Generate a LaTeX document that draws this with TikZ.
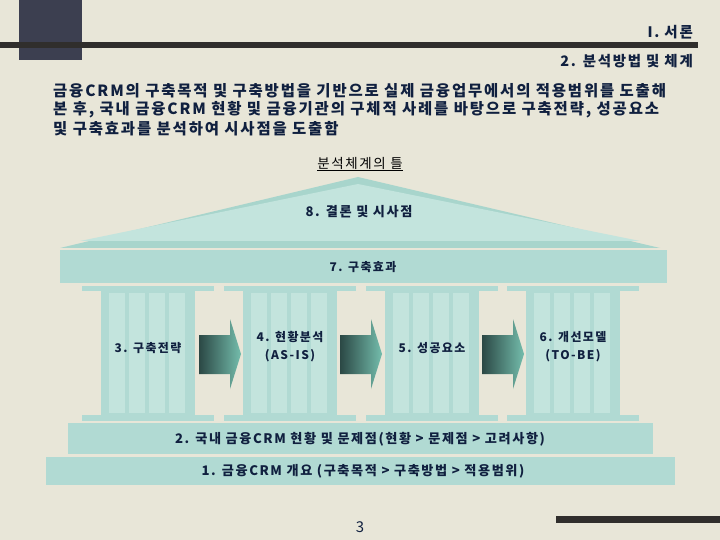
\documentclass[tikz,border=0pt]{standalone}
\usepackage{fontspec}
\setmainfont{Noto Sans CJK KR}
\newfontfamily\krwide[LetterSpace=12]{Noto Sans CJK KR}
\usepackage{tikz}
\usetikzlibrary{positioning}
\definecolor{paper}{HTML}{E8E6D8}
\definecolor{slate}{HTML}{3C3F50}
\definecolor{bar}{HTML}{302E2C}
\definecolor{rim}{HTML}{A8D5CC}
\definecolor{pale}{HTML}{C3E4DD}
\definecolor{mint}{HTML}{B1DAD3}
\definecolor{ink}{HTML}{10203F}
\definecolor{arrdark}{HTML}{2B4845}
\definecolor{arrlight}{HTML}{74BDAC}

\tikzset{
  hdtext/.style={font=\krwide\bfseries\fontsize{14.5}{16}\selectfont, text=ink, inner sep=0pt},
  bodytext/.style={font=\krwide\bfseries\fontsize{15.5}{19}\selectfont, text=ink, inner sep=0pt, anchor=west},
  lbl/.style={font=\krwide\bfseries\fontsize{12}{18}\selectfont, text=ink, inner sep=0pt, align=center},
  biglbl/.style={lbl, font=\krwide\bfseries\fontsize{13.2}{16}\selectfont},
  slab/.style={fill=mint},
  stone/.style={fill=pale}
}

\begin{document}
\begin{tikzpicture}[x=1bp,y=-1bp]
    \fill[paper] (0,0) rectangle (720,540);
    \useasboundingbox (0,0) rectangle (720,540);
    \fill[slate] (19,0) rectangle (82,60);
    \fill[bar] (0,42) rectangle (698,48);
    \fill[bar] (556,516) rectangle (720,523);

    \node[hdtext, anchor=east] (part) at (693,32) {I. 서론};
    \node[hdtext, anchor=east] (sect) at (693,61) {2. 분석방법 및 체계};
    \node[bodytext] (line1) at (53,91) {금융CRM의 구축목적 및 구축방법을 기반으로 실제 금융업무에서의 적용범위를 도출해};
    \node[bodytext] (line2) at (53,110) {본 후, 국내 금융CRM 현황 및 금융기관의 구체적 사례를 바탕으로 구축전략, 성공요소};
    \node[bodytext] (line3) at (53,129) {및 구축효과를 분석하여 시사점을 도출함};
    \node[font=\krwide\fontsize{13.5}{15}\selectfont, text=black, inner sep=1pt] (frame) at (360,164) {\underline{분석체계의 틀}};

    % roof
    \fill[rim] (60,248) -- (358,177) -- (660,248) -- cycle;
    \fill[pale] (80,241) -- (358,184) -- (640,241) -- cycle;
    \fill[slab] (60,250) rectangle (667,283);

    % columns
    \foreach \c in {148,290,432,573}{
        \fill[slab] (\c-66,286) rectangle (\c+66,291);
        \fill[slab] (\c-66,415) rectangle (\c+66,421);
        \fill[slab] (\c-47,291) rectangle (\c+47,415);
        \foreach \k in {0,1,2,3}
            \fill[stone] (\c-39+\k*20,293) rectangle (\c-23+\k*20,413);
    }

    % arrows
    \foreach \a in {199,340,482}
        \shade[left color=arrdark, right color=arrlight]
            (\a,335) -- (\a+31,335) -- (\a+31,319) -- (\a+42,354)
            -- (\a+31,389) -- (\a+31,374) -- (\a,374) -- cycle;

    % base
    \fill[slab] (68,423) rectangle (653,454);
    \fill[slab] (46,457) rectangle (675,485);

    \node[biglbl] (roof) at (359,212) {8. 결론 및 시사점};
    \node[lbl] (effect) at (363,267) {7. 구축효과};
    \node[lbl] (strategy) at (148,348) {3. 구축전략};
    \node[lbl] (asis) at (290,347) {4. 현황분석\\(AS-IS)};
    \node[lbl] (success) at (432,348) {5. 성공요소};
    \node[lbl] (tobe) at (573,347) {6. 개선모델\\(TO-BE)};
    \node[biglbl] (status) at (360,439) {2. 국내 금융CRM 현황 및 문제점(현황 > 문제점 > 고려사항)};
    \node[biglbl] (outline) at (363,471) {1. 금융CRM 개요 (구축목적 > 구축방법 > 적용범위)};
    \node[font=\fontsize{15}{17}\selectfont, text=ink, inner sep=0pt] (page) at (360,527) {3};
\end{tikzpicture}
\end{document}
